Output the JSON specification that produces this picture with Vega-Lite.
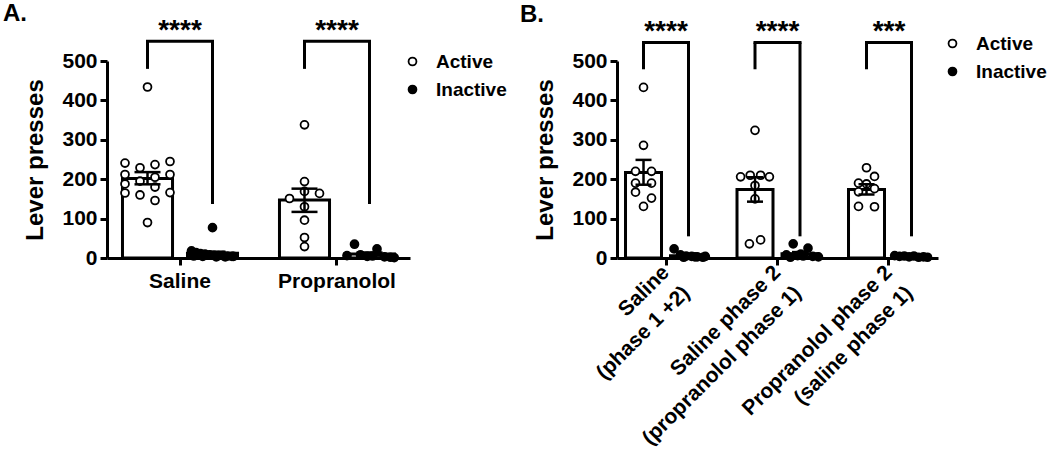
{
  "$schema": "https://vega.github.io/schema/vega-lite/v6.json",
  "padding": {"left": 3, "top": 2, "right": 2, "bottom": 2},
  "background": "white",
  "config": {
    "font": "Liberation Sans",
    "view": {"stroke": null},
    "axis": {
      "domainColor": "black", "domainWidth": 3, "tickColor": "black", "tickWidth": 3, "tickSize": 7,
      "labelColor": "black", "labelFont": "Liberation Sans", "labelFontSize": 21, "labelFontWeight": "bold",
      "titleFont": "Liberation Sans", "titleFontSize": 24, "titleFontWeight": "bold", "titleColor": "black",
      "grid": false, "labelPadding": 3, "titlePadding": 14, "labelOverlap": false, "labelLimit": 0
    },
    "legend": {
      "labelFont": "Liberation Sans", "labelFontSize": 19, "labelFontWeight": "bold", "labelColor": "black",
      "symbolType": "circle", "symbolSize": 62, "symbolStrokeColor": "black", "symbolStrokeWidth": 1.8,
      "labelOffset": 14, "rowPadding": 8
    },
    "title": {"font": "Liberation Sans", "fontSize": 24, "fontWeight": "bold", "color": "black", "anchor": "start", "frame": "group"}
  },
  "datasets": {
    "ptsA": [
      {"group": "Saline", "lever": "Active", "col": 0, "presses": 434},
      {"group": "Saline", "lever": "Active", "col": -3, "presses": 241},
      {"group": "Saline", "lever": "Active", "col": -1, "presses": 229},
      {"group": "Saline", "lever": "Active", "col": 1, "presses": 237},
      {"group": "Saline", "lever": "Active", "col": 3, "presses": 245},
      {"group": "Saline", "lever": "Active", "col": -3, "presses": 212},
      {"group": "Saline", "lever": "Active", "col": 3, "presses": 212},
      {"group": "Saline", "lever": "Active", "col": 1, "presses": 205},
      {"group": "Saline", "lever": "Active", "col": -1, "presses": 195},
      {"group": "Saline", "lever": "Active", "col": -3, "presses": 188},
      {"group": "Saline", "lever": "Active", "col": 1, "presses": 180},
      {"group": "Saline", "lever": "Active", "col": -3, "presses": 165},
      {"group": "Saline", "lever": "Active", "col": -1, "presses": 160},
      {"group": "Saline", "lever": "Active", "col": 3, "presses": 166},
      {"group": "Saline", "lever": "Active", "col": 1, "presses": 146},
      {"group": "Saline", "lever": "Active", "col": 0, "presses": 90},
      {"group": "Saline", "lever": "Inactive", "col": 0, "presses": 77},
      {"group": "Saline", "lever": "Inactive", "col": -2.8, "presses": 18},
      {"group": "Saline", "lever": "Inactive", "col": -2.2, "presses": 14},
      {"group": "Saline", "lever": "Inactive", "col": -1.6, "presses": 11},
      {"group": "Saline", "lever": "Inactive", "col": -1.0, "presses": 10},
      {"group": "Saline", "lever": "Inactive", "col": -0.4, "presses": 8},
      {"group": "Saline", "lever": "Inactive", "col": 0.2, "presses": 7},
      {"group": "Saline", "lever": "Inactive", "col": 0.8, "presses": 6},
      {"group": "Saline", "lever": "Inactive", "col": 1.4, "presses": 6},
      {"group": "Saline", "lever": "Inactive", "col": 2.0, "presses": 5},
      {"group": "Saline", "lever": "Inactive", "col": 2.6, "presses": 4},
      {"group": "Saline", "lever": "Inactive", "col": -2.5, "presses": 5},
      {"group": "Saline", "lever": "Inactive", "col": -1.3, "presses": 4},
      {"group": "Saline", "lever": "Inactive", "col": 0.5, "presses": 3},
      {"group": "Saline", "lever": "Inactive", "col": 1.7, "presses": 3},
      {"group": "Saline", "lever": "Inactive", "col": 2.8, "presses": 4},
      {"group": "Propranolol", "lever": "Active", "col": 0, "presses": 338},
      {"group": "Propranolol", "lever": "Active", "col": 0, "presses": 194},
      {"group": "Propranolol", "lever": "Active", "col": 0, "presses": 169},
      {"group": "Propranolol", "lever": "Active", "col": 2, "presses": 164},
      {"group": "Propranolol", "lever": "Active", "col": -2, "presses": 151},
      {"group": "Propranolol", "lever": "Active", "col": 0, "presses": 130},
      {"group": "Propranolol", "lever": "Active", "col": 0, "presses": 96},
      {"group": "Propranolol", "lever": "Active", "col": 0, "presses": 52},
      {"group": "Propranolol", "lever": "Active", "col": 0, "presses": 29},
      {"group": "Propranolol", "lever": "Inactive", "col": -2, "presses": 35},
      {"group": "Propranolol", "lever": "Inactive", "col": 1, "presses": 23},
      {"group": "Propranolol", "lever": "Inactive", "col": -3, "presses": 6},
      {"group": "Propranolol", "lever": "Inactive", "col": -1.2, "presses": 8},
      {"group": "Propranolol", "lever": "Inactive", "col": -0.3, "presses": 4},
      {"group": "Propranolol", "lever": "Inactive", "col": 0.4, "presses": 5},
      {"group": "Propranolol", "lever": "Inactive", "col": 2, "presses": 3},
      {"group": "Propranolol", "lever": "Inactive", "col": 2.8, "presses": 2},
      {"group": "Propranolol", "lever": "Inactive", "col": 3.3, "presses": 1}
    ],
    "sumA": [
      {"group": "Saline", "lever": "Active", "mean": 202, "lo": 187, "hi": 218},
      {"group": "Saline", "lever": "Inactive", "mean": 12, "lo": 8, "hi": 16},
      {"group": "Propranolol", "lever": "Active", "mean": 147, "lo": 117, "hi": 176},
      {"group": "Propranolol", "lever": "Inactive", "mean": 10, "lo": 6, "hi": 14}
    ],
    "dropsA": [
      {"group": "Saline", "lever": "Active", "from": 480, "to": 550},
      {"group": "Saline", "lever": "Inactive", "from": 137, "to": 550},
      {"group": "Propranolol", "lever": "Active", "from": 480, "to": 550},
      {"group": "Propranolol", "lever": "Inactive", "from": 137, "to": 550}
    ],
    "sigA": [
      {"group": "Saline", "top": 550, "stars": "****"},
      {"group": "Propranolol", "top": 550, "stars": "****"}
    ],
    "ptsB": [
      {"group": "Saline (phase 1 +2)", "lever": "Active", "col": 0, "presses": 433},
      {"group": "Saline (phase 1 +2)", "lever": "Active", "col": 0, "presses": 286},
      {"group": "Saline (phase 1 +2)", "lever": "Active", "col": -1, "presses": 220},
      {"group": "Saline (phase 1 +2)", "lever": "Active", "col": 1, "presses": 220},
      {"group": "Saline (phase 1 +2)", "lever": "Active", "col": -1, "presses": 190},
      {"group": "Saline (phase 1 +2)", "lever": "Active", "col": 1, "presses": 190},
      {"group": "Saline (phase 1 +2)", "lever": "Active", "col": -1, "presses": 167},
      {"group": "Saline (phase 1 +2)", "lever": "Active", "col": 1, "presses": 152},
      {"group": "Saline (phase 1 +2)", "lever": "Active", "col": 0, "presses": 131},
      {"group": "Saline (phase 1 +2)", "lever": "Inactive", "col": -1.8, "presses": 23},
      {"group": "Saline (phase 1 +2)", "lever": "Inactive", "col": -1, "presses": 8},
      {"group": "Saline (phase 1 +2)", "lever": "Inactive", "col": -0.3, "presses": 5},
      {"group": "Saline (phase 1 +2)", "lever": "Inactive", "col": 0.4, "presses": 4},
      {"group": "Saline (phase 1 +2)", "lever": "Inactive", "col": 1.1, "presses": 3},
      {"group": "Saline (phase 1 +2)", "lever": "Inactive", "col": 1.8, "presses": 2},
      {"group": "Saline (phase 1 +2)", "lever": "Inactive", "col": -0.6, "presses": 2},
      {"group": "Saline (phase 1 +2)", "lever": "Inactive", "col": 0.8, "presses": 3},
      {"group": "Saline (phase 1 +2)", "lever": "Inactive", "col": 2.1, "presses": 4},
      {"group": "Saline phase 2 (propranolol phase 1)", "lever": "Active", "col": 0, "presses": 324},
      {"group": "Saline phase 2 (propranolol phase 1)", "lever": "Active", "col": -1.8, "presses": 206},
      {"group": "Saline phase 2 (propranolol phase 1)", "lever": "Active", "col": -0.6, "presses": 210},
      {"group": "Saline phase 2 (propranolol phase 1)", "lever": "Active", "col": 0.7, "presses": 210},
      {"group": "Saline phase 2 (propranolol phase 1)", "lever": "Active", "col": 1.8, "presses": 206},
      {"group": "Saline phase 2 (propranolol phase 1)", "lever": "Active", "col": 0, "presses": 184},
      {"group": "Saline phase 2 (propranolol phase 1)", "lever": "Active", "col": 0, "presses": 150},
      {"group": "Saline phase 2 (propranolol phase 1)", "lever": "Active", "col": -0.7, "presses": 36},
      {"group": "Saline phase 2 (propranolol phase 1)", "lever": "Active", "col": 0.7, "presses": 46},
      {"group": "Saline phase 2 (propranolol phase 1)", "lever": "Inactive", "col": -0.85, "presses": 36},
      {"group": "Saline phase 2 (propranolol phase 1)", "lever": "Inactive", "col": 1, "presses": 25},
      {"group": "Saline phase 2 (propranolol phase 1)", "lever": "Inactive", "col": -1.7, "presses": 8},
      {"group": "Saline phase 2 (propranolol phase 1)", "lever": "Inactive", "col": -0.3, "presses": 6},
      {"group": "Saline phase 2 (propranolol phase 1)", "lever": "Inactive", "col": 0.4, "presses": 5},
      {"group": "Saline phase 2 (propranolol phase 1)", "lever": "Inactive", "col": 1.6, "presses": 4},
      {"group": "Saline phase 2 (propranolol phase 1)", "lever": "Inactive", "col": 2.3, "presses": 3},
      {"group": "Saline phase 2 (propranolol phase 1)", "lever": "Inactive", "col": -1.2, "presses": 2},
      {"group": "Saline phase 2 (propranolol phase 1)", "lever": "Inactive", "col": 0.1, "presses": 10},
      {"group": "Propranolol phase 2 (saline phase 1)", "lever": "Active", "col": 0, "presses": 229},
      {"group": "Propranolol phase 2 (saline phase 1)", "lever": "Active", "col": 1, "presses": 207},
      {"group": "Propranolol phase 2 (saline phase 1)", "lever": "Active", "col": -1, "presses": 190},
      {"group": "Propranolol phase 2 (saline phase 1)", "lever": "Active", "col": 0, "presses": 188},
      {"group": "Propranolol phase 2 (saline phase 1)", "lever": "Active", "col": 1, "presses": 176},
      {"group": "Propranolol phase 2 (saline phase 1)", "lever": "Active", "col": -1, "presses": 168},
      {"group": "Propranolol phase 2 (saline phase 1)", "lever": "Active", "col": -1, "presses": 131},
      {"group": "Propranolol phase 2 (saline phase 1)", "lever": "Active", "col": 1, "presses": 130},
      {"group": "Propranolol phase 2 (saline phase 1)", "lever": "Inactive", "col": -2.1, "presses": 6},
      {"group": "Propranolol phase 2 (saline phase 1)", "lever": "Inactive", "col": -1.5, "presses": 4},
      {"group": "Propranolol phase 2 (saline phase 1)", "lever": "Inactive", "col": -0.9, "presses": 5},
      {"group": "Propranolol phase 2 (saline phase 1)", "lever": "Inactive", "col": -0.3, "presses": 3},
      {"group": "Propranolol phase 2 (saline phase 1)", "lever": "Inactive", "col": 0.3, "presses": 5},
      {"group": "Propranolol phase 2 (saline phase 1)", "lever": "Inactive", "col": 0.9, "presses": 2},
      {"group": "Propranolol phase 2 (saline phase 1)", "lever": "Inactive", "col": 1.5, "presses": 3},
      {"group": "Propranolol phase 2 (saline phase 1)", "lever": "Inactive", "col": 2.0, "presses": 2}
    ],
    "sumB": [
      {"group": "Saline (phase 1 +2)", "lever": "Active", "mean": 217, "lo": 186, "hi": 249},
      {"group": "Saline (phase 1 +2)", "lever": "Inactive", "mean": 6, "lo": 4, "hi": 8},
      {"group": "Saline phase 2 (propranolol phase 1)", "lever": "Active", "mean": 174, "lo": 143, "hi": 205},
      {"group": "Saline phase 2 (propranolol phase 1)", "lever": "Inactive", "mean": 11, "lo": 7, "hi": 15},
      {"group": "Propranolol phase 2 (saline phase 1)", "lever": "Active", "mean": 174, "lo": 161, "hi": 187},
      {"group": "Propranolol phase 2 (saline phase 1)", "lever": "Inactive", "mean": 4, "lo": 3, "hi": 5}
    ],
    "dropsB": [
      {"group": "Saline (phase 1 +2)", "lever": "Active", "from": 479, "to": 547},
      {"group": "Saline (phase 1 +2)", "lever": "Inactive", "from": 55, "to": 547},
      {"group": "Saline phase 2 (propranolol phase 1)", "lever": "Active", "from": 479, "to": 547},
      {"group": "Saline phase 2 (propranolol phase 1)", "lever": "Inactive", "from": 55, "to": 547},
      {"group": "Propranolol phase 2 (saline phase 1)", "lever": "Active", "from": 479, "to": 547},
      {"group": "Propranolol phase 2 (saline phase 1)", "lever": "Inactive", "from": 55, "to": 547}
    ],
    "sigB": [
      {"group": "Saline (phase 1 +2)", "top": 547, "stars": "****"},
      {"group": "Saline phase 2 (propranolol phase 1)", "top": 547, "stars": "****"},
      {"group": "Propranolol phase 2 (saline phase 1)", "top": 547, "stars": "***"}
    ]
  },
  "hconcat": [
    {
      "width": 303,
      "height": 197,
      "title": {"text": "A.", "dx": -104, "offset": -9},
      "layer": [
        {
          "data": {"name": "sumA"},
          "mark": {"type": "bar", "fill": "white", "stroke": "black", "strokeWidth": 3},
          "encoding": {
            "x": {"field": "group", "type": "nominal", "title": null, "scale": {"domain": ["Saline", "Propranolol"], "paddingInner": 0.172, "paddingOuter": 0.051}, "axis": {"labelAngle": 0, "labelPadding": 5}},
            "xOffset": {"field": "lever", "type": "nominal", "scale": {"domain": ["Active", "Inactive"], "paddingInner": 0.23, "paddingOuter": 0.115}},
            "y": {"field": "mean", "type": "quantitative", "title": "Lever presses", "scale": {"domain": [0, 500], "nice": false}, "axis": {"values": [0, 100, 200, 300, 400, 500]}}
          }
        },
        {
          "data": {"name": "ptsA"},
          "transform": [{"filter": "datum.lever == 'Active'"}],
          "mark": {"type": "point", "shape": "circle", "filled": true, "stroke": "black", "strokeWidth": 1.8, "size": 62, "opacity": 1},
          "encoding": {
            "x": {"field": "group", "type": "nominal", "title": null},
            "xOffset": {"field": "col", "type": "quantitative", "scale": {"domain": [-4.333, 13], "zero": false, "nice": false}},
            "y": {"field": "presses", "type": "quantitative", "title": "Lever presses", "axis": {"values": [0, 100, 200, 300, 400, 500]}},
            "fill": {"field": "lever", "type": "nominal", "scale": {"domain": ["Active", "Inactive"], "range": ["white", "black"]}, "legend": {"title": null, "orient": "none", "legendX": 296, "legendY": -9}}
          }
        },
        {
          "data": {"name": "ptsA"},
          "transform": [{"filter": "datum.lever == 'Inactive'"}],
          "mark": {"type": "point", "shape": "circle", "filled": true, "stroke": "black", "strokeWidth": 1.8, "size": 62, "opacity": 1},
          "encoding": {
            "x": {"field": "group", "type": "nominal", "title": null},
            "xOffset": {"field": "col", "type": "quantitative", "scale": {"domain": [-13, 4.333], "zero": false, "nice": false}},
            "y": {"field": "presses", "type": "quantitative", "title": "Lever presses", "axis": {"values": [0, 100, 200, 300, 400, 500]}},
            "fill": {"field": "lever", "type": "nominal", "scale": {"domain": ["Active", "Inactive"], "range": ["white", "black"]}, "legend": {"title": null, "orient": "none", "legendX": 296, "legendY": -9}}
          }
        },
        {
          "data": {"name": "sumA"},
          "mark": {"type": "rule", "stroke": "black", "strokeWidth": 2.5},
          "encoding": {
            "x": {"field": "group", "type": "nominal", "title": null},
            "xOffset": {"field": "lever", "type": "nominal", "scale": {"domain": ["Active", "Inactive"], "paddingInner": 0.23, "paddingOuter": 0.115}},
            "y": {"field": "lo", "type": "quantitative", "title": "Lever presses", "axis": {"values": [0, 100, 200, 300, 400, 500]}},
            "y2": {"field": "hi"}
          }
        },
        {
          "data": {"name": "sumA"},
          "mark": {"type": "tick", "orient": "horizontal", "color": "black", "size": 26, "thickness": 2.5, "opacity": 1},
          "encoding": {
            "x": {"field": "group", "type": "nominal", "title": null},
            "xOffset": {"field": "lever", "type": "nominal", "scale": {"domain": ["Active", "Inactive"], "paddingInner": 0.23, "paddingOuter": 0.115}},
            "y": {"field": "lo", "type": "quantitative", "title": "Lever presses", "axis": {"values": [0, 100, 200, 300, 400, 500]}}
          }
        },
        {
          "data": {"name": "sumA"},
          "mark": {"type": "tick", "orient": "horizontal", "color": "black", "size": 26, "thickness": 2.5, "opacity": 1},
          "encoding": {
            "x": {"field": "group", "type": "nominal", "title": null},
            "xOffset": {"field": "lever", "type": "nominal", "scale": {"domain": ["Active", "Inactive"], "paddingInner": 0.23, "paddingOuter": 0.115}},
            "y": {"field": "hi", "type": "quantitative", "title": "Lever presses", "axis": {"values": [0, 100, 200, 300, 400, 500]}}
          }
        },
        {
          "data": {"name": "dropsA"},
          "mark": {"type": "rule", "stroke": "black", "strokeWidth": 3},
          "encoding": {
            "x": {"field": "group", "type": "nominal", "title": null},
            "xOffset": {"field": "lever", "type": "nominal", "scale": {"domain": ["Active", "Inactive"], "paddingInner": 0.23, "paddingOuter": 0.115}},
            "y": {"field": "from", "type": "quantitative", "title": "Lever presses", "axis": {"values": [0, 100, 200, 300, 400, 500]}},
            "y2": {"field": "to"}
          }
        },
        {
          "data": {"name": "sigA"},
          "mark": {"type": "tick", "orient": "horizontal", "color": "black", "size": 68, "thickness": 3, "opacity": 1},
          "encoding": {
            "x": {"field": "group", "type": "nominal", "title": null},
            "y": {"field": "top", "type": "quantitative", "title": "Lever presses", "axis": {"values": [0, 100, 200, 300, 400, 500]}}
          }
        },
        {
          "data": {"name": "sigA"},
          "mark": {"type": "text", "font": "Liberation Sans", "fontSize": 28, "fontWeight": "bold", "color": "black", "baseline": "alphabetic", "dy": -2},
          "encoding": {
            "x": {"field": "group", "type": "nominal", "title": null},
            "y": {"field": "top", "type": "quantitative", "title": "Lever presses", "axis": {"values": [0, 100, 200, 300, 400, 500]}},
            "text": {"field": "stars"}
          }
        }
      ],
      "resolve": {"scale": {"xOffset": "independent"}}
    },
    {
      "width": 321,
      "height": 197,
      "title": {"text": "B.", "dx": -97, "offset": -9},
      "layer": [
        {
          "data": {"name": "sumB"},
          "mark": {"type": "bar", "fill": "white", "stroke": "black", "strokeWidth": 3},
          "encoding": {
            "x": {"field": "group", "type": "nominal", "title": null, "scale": {"domain": ["Saline (phase 1 +2)", "Saline phase 2 (propranolol phase 1)", "Propranolol phase 2 (saline phase 1)"], "paddingInner": 0.193, "paddingOuter": 0.036}, "axis": {"labelAngle": -45, "labelAlign": "right", "labelBaseline": "middle", "labelLineHeight": 29, "labelPadding": 4, "labelExpr": "datum.value == 'Saline (phase 1 +2)' ? ['Saline', '(phase 1 +2)'] : datum.value == 'Saline phase 2 (propranolol phase 1)' ? ['Saline phase 2', '(propranolol phase 1)'] : ['Propranolol phase 2', '(saline phase 1)']"}},
            "xOffset": {"field": "lever", "type": "nominal", "scale": {"domain": ["Active", "Inactive"], "paddingInner": 0.2, "paddingOuter": 0.1}},
            "y": {"field": "mean", "type": "quantitative", "title": "Lever presses", "scale": {"domain": [0, 500], "nice": false}, "axis": {"values": [0, 100, 200, 300, 400, 500]}}
          }
        },
        {
          "data": {"name": "ptsB"},
          "transform": [{"filter": "datum.lever == 'Active'"}],
          "mark": {"type": "point", "shape": "circle", "filled": true, "stroke": "black", "strokeWidth": 1.8, "size": 62, "opacity": 1},
          "encoding": {
            "x": {"field": "group", "type": "nominal", "title": null},
            "xOffset": {"field": "col", "type": "quantitative", "scale": {"domain": [-2.8125, 8.4375], "zero": false, "nice": false}},
            "y": {"field": "presses", "type": "quantitative", "title": "Lever presses", "axis": {"values": [0, 100, 200, 300, 400, 500]}},
            "fill": {"field": "lever", "type": "nominal", "scale": {"domain": ["Active", "Inactive"], "range": ["white", "black"]}, "legend": {"title": null, "orient": "none", "legendX": 326, "legendY": -27}}
          }
        },
        {
          "data": {"name": "ptsB"},
          "transform": [{"filter": "datum.lever == 'Inactive'"}],
          "mark": {"type": "point", "shape": "circle", "filled": true, "stroke": "black", "strokeWidth": 1.8, "size": 62, "opacity": 1},
          "encoding": {
            "x": {"field": "group", "type": "nominal", "title": null},
            "xOffset": {"field": "col", "type": "quantitative", "scale": {"domain": [-8.4375, 2.8125], "zero": false, "nice": false}},
            "y": {"field": "presses", "type": "quantitative", "title": "Lever presses", "axis": {"values": [0, 100, 200, 300, 400, 500]}},
            "fill": {"field": "lever", "type": "nominal", "scale": {"domain": ["Active", "Inactive"], "range": ["white", "black"]}, "legend": {"title": null, "orient": "none", "legendX": 326, "legendY": -27}}
          }
        },
        {
          "data": {"name": "sumB"},
          "mark": {"type": "rule", "stroke": "black", "strokeWidth": 2.5},
          "encoding": {
            "x": {"field": "group", "type": "nominal", "title": null},
            "xOffset": {"field": "lever", "type": "nominal", "scale": {"domain": ["Active", "Inactive"], "paddingInner": 0.2, "paddingOuter": 0.1}},
            "y": {"field": "lo", "type": "quantitative", "title": "Lever presses", "axis": {"values": [0, 100, 200, 300, 400, 500]}},
            "y2": {"field": "hi"}
          }
        },
        {
          "data": {"name": "sumB"},
          "mark": {"type": "tick", "orient": "horizontal", "color": "black", "size": 16, "thickness": 2.5, "opacity": 1},
          "encoding": {
            "x": {"field": "group", "type": "nominal", "title": null},
            "xOffset": {"field": "lever", "type": "nominal", "scale": {"domain": ["Active", "Inactive"], "paddingInner": 0.2, "paddingOuter": 0.1}},
            "y": {"field": "lo", "type": "quantitative", "title": "Lever presses", "axis": {"values": [0, 100, 200, 300, 400, 500]}}
          }
        },
        {
          "data": {"name": "sumB"},
          "mark": {"type": "tick", "orient": "horizontal", "color": "black", "size": 16, "thickness": 2.5, "opacity": 1},
          "encoding": {
            "x": {"field": "group", "type": "nominal", "title": null},
            "xOffset": {"field": "lever", "type": "nominal", "scale": {"domain": ["Active", "Inactive"], "paddingInner": 0.2, "paddingOuter": 0.1}},
            "y": {"field": "hi", "type": "quantitative", "title": "Lever presses", "axis": {"values": [0, 100, 200, 300, 400, 500]}}
          }
        },
        {
          "data": {"name": "dropsB"},
          "mark": {"type": "rule", "stroke": "black", "strokeWidth": 3},
          "encoding": {
            "x": {"field": "group", "type": "nominal", "title": null},
            "xOffset": {"field": "lever", "type": "nominal", "scale": {"domain": ["Active", "Inactive"], "paddingInner": 0.2, "paddingOuter": 0.1}},
            "y": {"field": "from", "type": "quantitative", "title": "Lever presses", "axis": {"values": [0, 100, 200, 300, 400, 500]}},
            "y2": {"field": "to"}
          }
        },
        {
          "data": {"name": "sigB"},
          "mark": {"type": "tick", "orient": "horizontal", "color": "black", "size": 48, "thickness": 3, "opacity": 1},
          "encoding": {
            "x": {"field": "group", "type": "nominal", "title": null},
            "y": {"field": "top", "type": "quantitative", "title": "Lever presses", "axis": {"values": [0, 100, 200, 300, 400, 500]}}
          }
        },
        {
          "data": {"name": "sigB"},
          "mark": {"type": "text", "font": "Liberation Sans", "fontSize": 28, "fontWeight": "bold", "color": "black", "baseline": "alphabetic", "dy": -2},
          "encoding": {
            "x": {"field": "group", "type": "nominal", "title": null},
            "y": {"field": "top", "type": "quantitative", "title": "Lever presses", "axis": {"values": [0, 100, 200, 300, 400, 500]}},
            "text": {"field": "stars"}
          }
        }
      ],
      "resolve": {"scale": {"xOffset": "independent"}}
    }
  ],
  "spacing": 207,
  "bounds": "flush",
  "resolve": {"scale": {"fill": "independent", "y": "independent", "x": "independent"}, "legend": {"fill": "independent"}}
}
